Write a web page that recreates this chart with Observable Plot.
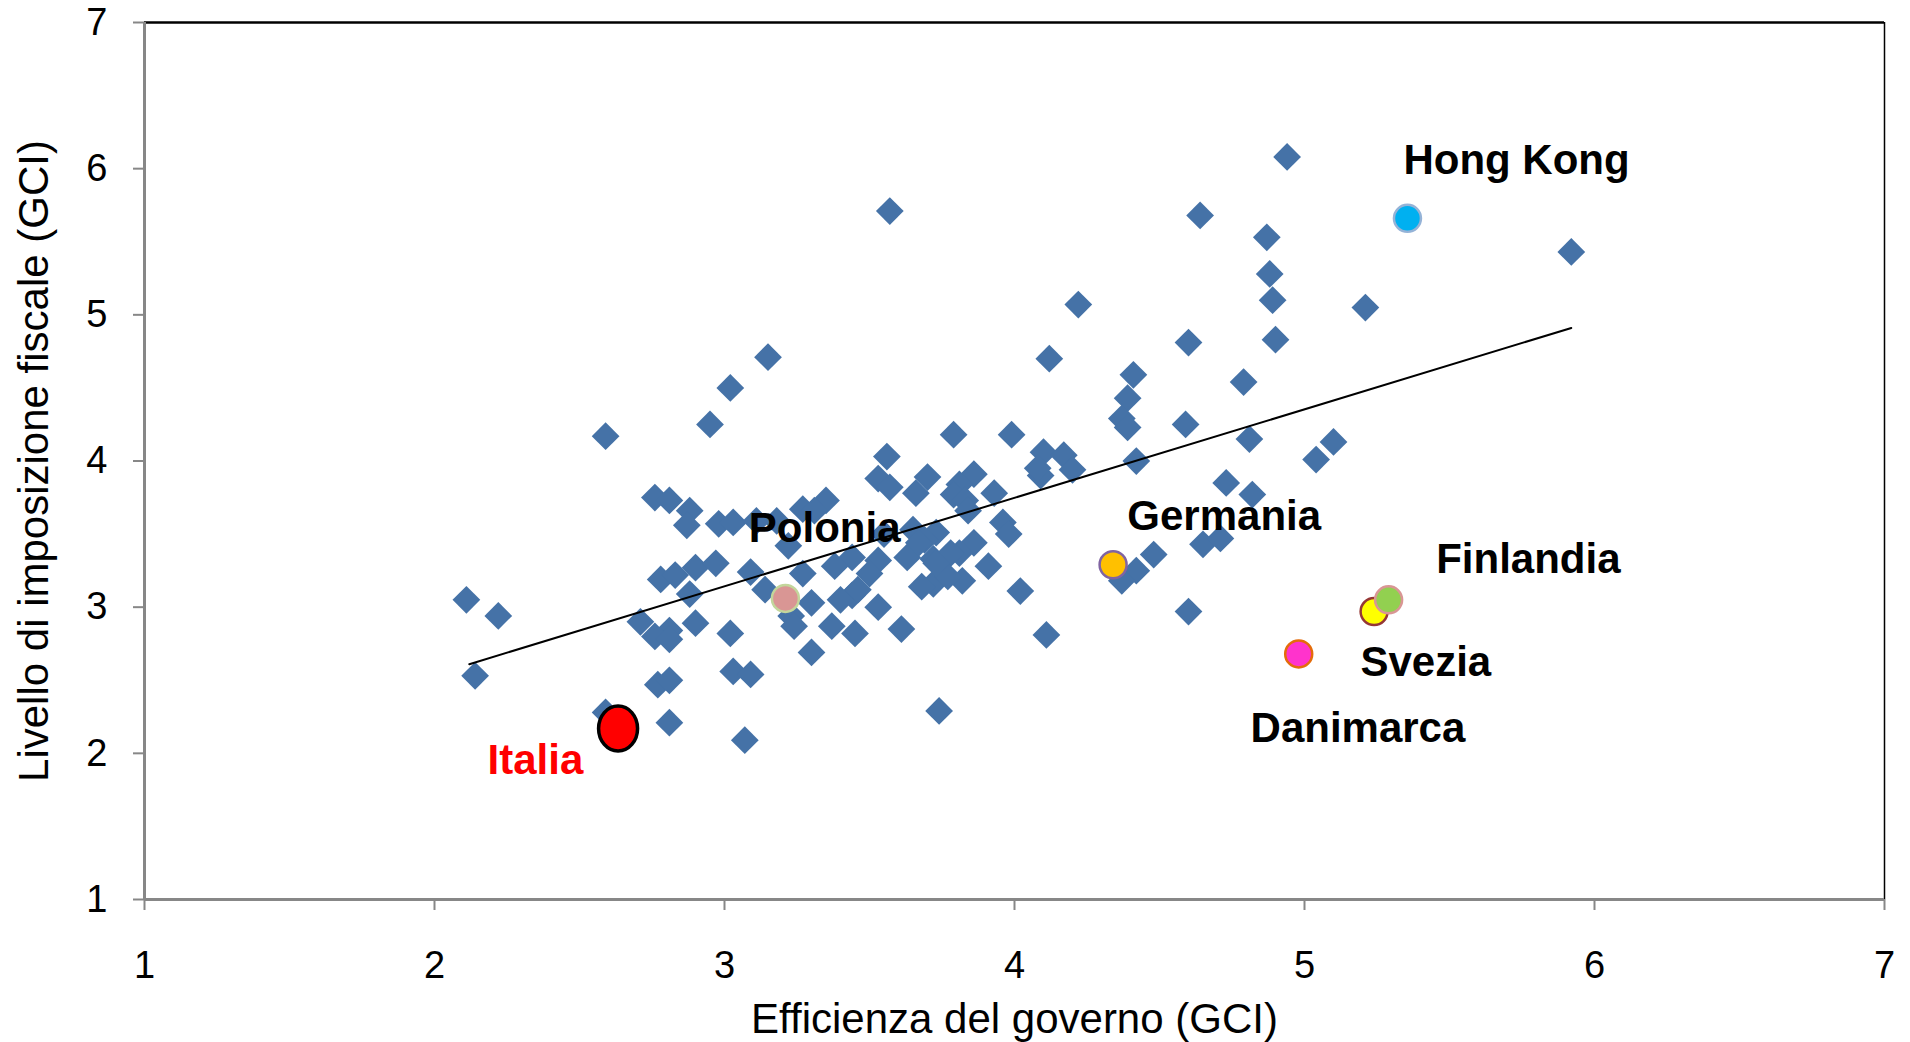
<!DOCTYPE html>
<html>
<head>
<meta charset="utf-8">
<script src="https://cdn.jsdelivr.net/npm/d3@7"></script>
<script src="https://cdn.jsdelivr.net/npm/@observablehq/plot@0.6"></script>
<style>
  html, body { margin: 0; padding: 0; background: #ffffff; }
  #chart svg { display: block; }
</style>
</head>
<body>
<div id="chart"></div>
<script>
// Efficienza del governo (x) e livello di imposizione fiscale (y) — tutti i paesi
const efficienza = [
  4.94, 3.57, 4.64, 4.87, 5.92, 4.88, 4.89, 4.22, 5.21, 4.60,
  4.90, 3.15, 4.12, 4.41, 4.79, 3.02, 4.39, 2.95, 4.37, 4.39,
  4.59, 2.59, 3.79, 3.99, 4.81, 5.10, 5.04, 4.42, 4.10, 4.17,
  4.20, 3.56, 3.53, 3.57, 3.70, 3.86, 3.81, 3.79, 3.66, 3.93,
  4.09, 4.08, 4.73, 4.82, 2.76, 2.81, 3.35, 2.88, 3.27, 3.18,
  2.87, 2.98, 3.03, 3.96, 3.98, 3.65, 3.73, 3.69, 4.65, 4.71,
  3.86, 3.81, 4.48, 3.44, 3.53, 3.63, 3.38, 3.50, 3.72, 3.91,
  2.90, 2.97, 3.09, 3.27, 2.78, 2.83, 4.42, 4.37, 3.82, 3.72,
  3.44, 3.40, 3.14, 2.88, 4.02, 2.11, 2.22, 3.53, 4.60, 3.30,
  3.23, 2.71, 2.90, 3.24, 3.37, 3.45, 3.61, 2.81, 2.76, 2.81,
  3.02, 4.11, 3.30, 2.14, 3.03, 3.09, 2.77, 2.81, 3.74, 2.59,
  2.81, 3.07, 3.31, 3.22, 3.11, 3.55, 3.78, 3.77, 3.68, 3.46,
  3.21, 3.83, 3.84, 3.67, 3.73
];
const imposizione = [
  6.08, 5.71, 5.68, 5.53, 5.43, 5.28, 5.10, 5.07, 5.05, 4.81,
  4.83, 4.71, 4.70, 4.59, 4.54, 4.50, 4.43, 4.25, 4.29, 4.23,
  4.25, 4.17, 4.18, 4.18, 4.15, 4.13, 4.01, 4.00, 4.06, 4.04,
  3.94, 4.03, 3.88, 3.82, 3.89, 3.91, 3.84, 3.77, 3.78, 3.78,
  3.90, 3.95, 3.85, 3.77, 3.75, 3.73, 3.73, 3.66, 3.67, 3.59,
  3.56, 3.57, 3.58, 3.58, 3.50, 3.53, 3.51, 3.46, 3.43, 3.47,
  3.44, 3.37, 3.36, 3.34, 3.32, 3.34, 3.28, 3.23, 3.33, 3.28,
  3.27, 3.30, 3.24, 3.23, 3.19, 3.22, 3.25, 3.18, 3.18, 3.16,
  3.08, 3.05, 3.12, 3.09, 3.11, 3.05, 2.94, 3.00, 2.97, 3.03,
  2.94, 2.90, 2.89, 2.87, 2.87, 2.82, 2.85, 2.84, 2.80, 2.78,
  2.82, 2.81, 2.69, 2.53, 2.56, 2.54, 2.47, 2.50, 2.29, 2.28,
  2.21, 2.09, 3.66, 3.42, 3.59, 3.50, 3.37, 3.21, 3.14, 3.12,
  3.03, 3.73, 3.66, 3.44, 3.30
];

// Paesi evidenziati
const paesi = ["Polonia", "Germania", "Danimarca", "Svezia", "Finlandia", "Hong Kong", "Italia"];
const paesiEff = [3.21, 4.34, 4.98, 5.24, 5.29, 5.355, 2.633];
const paesiImp = [3.06, 3.29, 2.68, 2.97, 3.05, 5.66, 2.17];
// Punto di ancoraggio delle etichette (unità dei dati)
const etichettaEff = [3.084, 4.389, 4.814, 5.193, 5.454, 5.341, 2.183];
const etichettaImp = [3.446, 3.527, 2.075, 2.532, 3.232, 5.965, 1.862];

// Retta di tendenza (estremi)
const trendEff = [2.12, 5.92];
const trendImp = [2.61, 4.91];

const xTicks = [1, 2, 3, 4, 5, 6, 7];
const yTicks = [1, 2, 3, 4, 5, 6, 7];
const xTitle = "Efficienza del governo (GCI)";
const yTitle = "Livello di imposizione fiscale (GCI)";

// Stili
const stile = {
  "Polonia":   {fill: "#D99694", stroke: "#C3D69B"},
  "Germania":  {fill: "#FFC000", stroke: "#8064A2"},
  "Danimarca": {fill: "#FF33CC", stroke: "#E46C0A"},
  "Svezia":    {fill: "#FFFF00", stroke: "#953735"},
  "Finlandia": {fill: "#92D050", stroke: "#D99694"},
  "Hong Kong": {fill: "#00B0F0", stroke: "#95B3D7"},
  "Italia":    {fill: "#FF0000", stroke: "#000000"}
};
const axisGray = "#878787";
const font = "'Liberation Sans', Arial, Helvetica, sans-serif";

// simbolo ellittico (un po' più alto che largo) per l'Italia
const ellisse = {
  draw(context, size) {
    const rx = 19.5, ry = 22.5, k = 0.5523;
    context.moveTo(0, -ry);
    context.bezierCurveTo(k * rx, -ry, rx, -k * ry, rx, 0);
    context.bezierCurveTo(rx, k * ry, k * rx, ry, 0, ry);
    context.bezierCurveTo(-k * rx, ry, -rx, k * ry, -rx, 0);
    context.bezierCurveTo(-rx, -k * ry, -k * rx, -ry, 0, -ry);
    context.closePath();
  }
};

const punti = efficienza.map((x, i) => ({x, y: imposizione[i]}));
const evid = paesi.map((p, i) => ({paese: p, x: paesiEff[i], y: paesiImp[i], lx: etichettaEff[i], ly: etichettaImp[i]}));
const trend = trendEff.map((x, i) => ({x, y: trendImp[i]}));

const chart = Plot.plot({
  width: 1910,
  height: 1042,
  marginLeft: 144,
  marginRight: 26,
  marginTop: 22,
  marginBottom: 143,
  style: {fontFamily: font, background: "#ffffff", color: "#000"},
  x: {domain: [1, 7]},
  y: {domain: [1, 7]},
  marks: [
    // cornice
    Plot.ruleY([7], {stroke: "#000", strokeWidth: 2.5}),
    Plot.ruleX([7], {stroke: "#000", strokeWidth: 1.5}),
    // assi
    Plot.axisX({ticks: xTicks, tickSize: 11, tickPadding: 41, fontSize: 38, label: null,
                stroke: axisGray, strokeWidth: 2, fill: "#000", tickFormat: d => String(d)}),
    Plot.axisY({ticks: yTicks, tickSize: 11, tickPadding: 26, fontSize: 38, label: null,
                stroke: axisGray, strokeWidth: 2, fill: "#000", tickFormat: d => String(d)}),
    Plot.ruleY([1], {stroke: axisGray, strokeWidth: 3}),
    Plot.ruleX([1], {stroke: axisGray, strokeWidth: 3}),
    // titoli assi
    Plot.text([xTitle], {text: d => d, frameAnchor: "bottom", dy: 133, lineAnchor: "bottom",
                         fontSize: 42, fill: "#000"}),
    Plot.text([yTitle], {text: d => d, frameAnchor: "left", dx: -97, rotate: -90,
                         lineAnchor: "bottom", textAnchor: "middle", fontSize: 42, fill: "#000"}),
    // tutti i paesi
    Plot.dot(punti, {x: "x", y: "y", symbol: "diamond2", r: 12.5, fill: "#4572A7", stroke: "none"}),
    // retta di tendenza
    Plot.line(trend, {x: "x", y: "y", stroke: "#000", strokeWidth: 2}),
    // paesi evidenziati
    Plot.dot(evid.filter(d => d.paese !== "Italia"), {x: "x", y: "y", r: 13.5,
      fill: d => stile[d.paese].fill, stroke: d => stile[d.paese].stroke, strokeWidth: 2.5}),
    Plot.dot(evid.filter(d => d.paese === "Italia"), {x: "x", y: "y", symbol: ellisse, r: 20,
      fill: d => stile[d.paese].fill, stroke: d => stile[d.paese].stroke, strokeWidth: 3.5}),
    // etichette
    Plot.text(evid, {x: "lx", y: "ly", text: "paese", textAnchor: "start", lineAnchor: "bottom",
      fontSize: 42, fontWeight: "bold", fill: d => d.paese === "Italia" ? "#FF0000" : "#000000"})
  ]
});
document.getElementById("chart").appendChild(chart);
</script>
</body>
</html>
